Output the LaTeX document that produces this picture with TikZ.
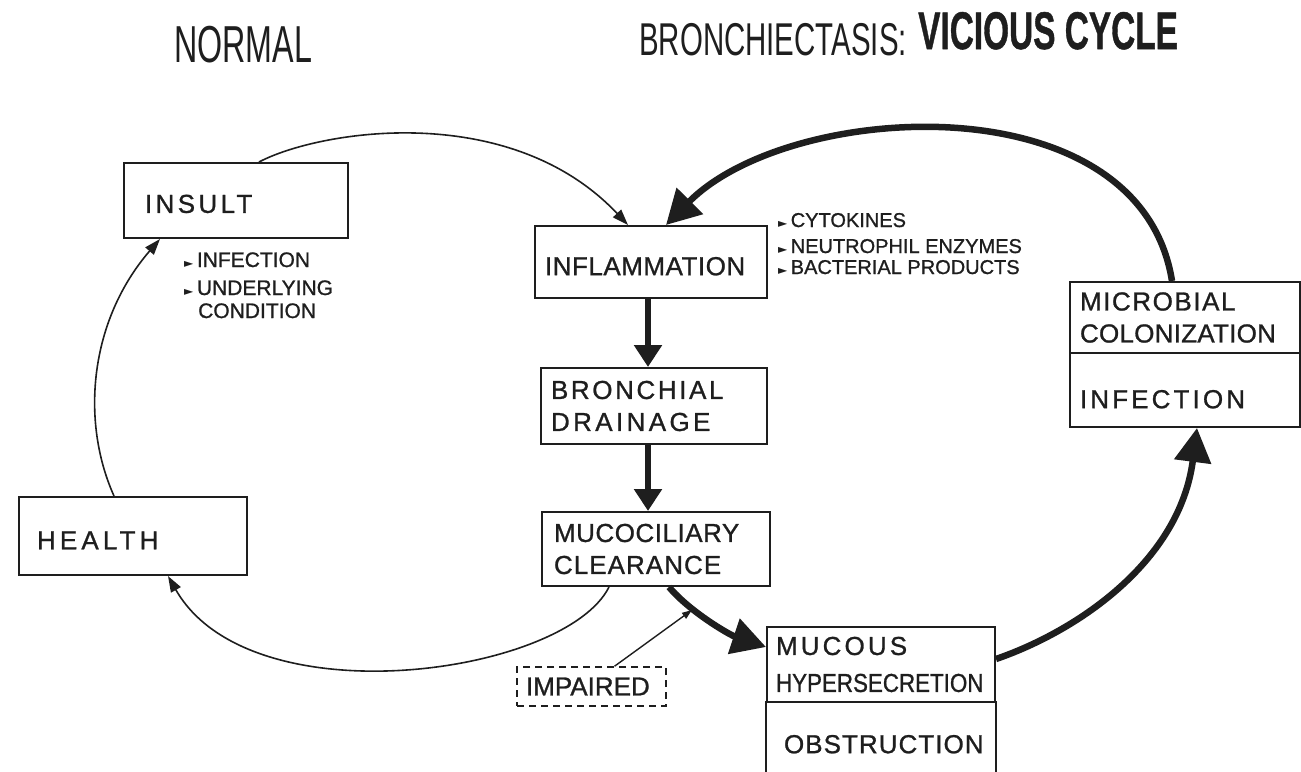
\documentclass[tikz,border=0pt]{standalone}
\usepackage{fontspec}
\setmainfont{Liberation Sans}
\newfontfamily\handfont{Liberation Sans}[FakeBold=1.0]
\newfontfamily\heavyfont{Liberation Sans Bold}[FakeBold=1.0]
\newfontfamily\symfont{DejaVu Sans}
\usetikzlibrary{arrows.meta,calc}
\definecolor{ink}{HTML}{1E1E1E}
\newcommand{\boxfont}{\handfont\fontsize{26}{32}\selectfont}
\newcommand{\lblfont}{\handfont\fontsize{20}{24}\selectfont}
\newcommand{\insfont}{\handfont\fontsize{21}{25}\selectfont}
\newcommand{\bultri}{{\symfont\fontsize{12}{12}\selectfont ►}\,}
\newcommand{\lsp}[2]{{\addfontfeature{LetterSpace=#1}#2}}
\begin{document}
\begin{tikzpicture}[x=1pt,y=-1pt,
  every node/.style={text=ink},
  box/.style={draw=ink, line width=2pt, inner ysep=0pt, align=left, font=\boxfont},
  thinarrow/.style={draw=ink, line width=1.6pt, -{Triangle[length=16pt,width=11pt]}},
  smallarrow/.style={draw=ink, line width=1.4pt, -{Triangle[length=10pt,width=7pt]}},
  thickarrow/.style={draw=ink, line width=6pt, -{Triangle[length=22pt,width=27pt]}},
  bigarrow/.style={draw=ink, line width=6.5pt, -{Triangle[length=34pt,width=36pt]}},
  lbl/.style={inner sep=0pt, anchor=base west},
  ttl/.style={inner sep=0pt, anchor=base west},
]
\useasboundingbox (0,0) rectangle (1301,771);

% titles
\node[ttl] (tnormal) at (174,62) {\scalebox{0.62}[1]{\fontsize{52}{52}\selectfont NORMAL}};
\node[ttl] (tbronch) at (639,55) {\scalebox{0.64}[1]{\fontsize{46}{46}\selectfont BRONCHIECTASIS:}};
\node[ttl] (tvicious) at (918,49) {\scalebox{0.63}[1]{\heavyfont\fontsize{53}{53}\selectfont VICIOUS CYCLE}};

% boxes
\node[box, minimum width=224pt, minimum height=75pt, inner xsep=21pt, text width=182pt, text height=25pt] (insult) at (236,200.5) {\lsp{13}{INSULT}};
\node[box, minimum width=232pt, minimum height=72pt, inner xsep=10pt, text width=212pt, text height=26.6pt] (inflammation) at (651,262) {\lsp{2}{INFLAMMATION}};
\node[box, minimum width=226pt, minimum height=76pt, inner xsep=10pt, text width=206pt] (bronchial) at (654,406) {\lsp{10}{BRONCHIAL}\\\lsp{13}{DRAINAGE}};
\node[box, minimum width=228pt, minimum height=74pt, inner xsep=12pt, text width=204pt] (mucociliary) at (656,549) {\lsp{2}{MUCOCILIARY}\\\lsp{4}{CLEARANCE}};
\node[box, minimum width=228pt, minimum height=78pt, inner xsep=18pt, text width=192pt, text height=26.6pt] (health) at (133,536) {\lsp{16}{HEALTH}};
\node[box, minimum width=230pt, minimum height=71pt, inner xsep=10pt, text width=210pt] (microbial) at (1185,317.5) {\lsp{6}{MICROBIAL}\\\lsp{1}{COLONIZATION}};
\node[box, minimum width=230pt, minimum height=74pt, inner xsep=10pt, text width=210pt, text height=36.6pt] (infection) at (1185,390) {\lsp{12}{INFECTION}};
\node[box, minimum width=228pt, minimum height=75pt, inner xsep=9pt, text width=210pt] (mucous) at (881,664.5) {\lsp{12}{MUCOUS}\\[5pt]\scalebox{0.86}[1]{HYPERSECRETION}};
\node[box, draw=none, minimum width=228pt, minimum height=69pt, inner xsep=17pt, text width=194pt, text height=33.6pt] (obstruction) at (881,736.5) {\lsp{4}{OBSTRUCTION}};
\draw[ink, line width=2pt] (obstruction.south west) -- (obstruction.north west)
  (obstruction.north east) -- (obstruction.south east);
\node[box, line width=1.5pt, dash pattern=on 7pt off 5pt, minimum width=149pt, minimum height=39pt, inner xsep=9pt, text width=131pt] (impaired) at (591.5,686.5) {IMPAIRED};

% bullet lists
\node[lbl, font=\insfont] (b1) at (184,267) {\bultri INFECTION};
\node[lbl, font=\insfont] (b2) at (184,295) {\bultri UNDERLYING};
\node[lbl, font=\insfont] (b3) at (198,318) {CONDITION};
\node[lbl, font=\lblfont] (c1) at (778,227) {\bultri CYTOKINES};
\node[lbl, font=\lblfont] (c2) at (778,253) {\bultri NEUTROPHIL ENZYMES};
\node[lbl, font=\lblfont] (c3) at (778,274) {\bultri BACTERIAL PRODUCTS};

% helper coordinates
\coordinate (vx) at (648,0);
\coordinate (imptip) at (692,610);

% connectors
\draw[thinarrow] ($(insult.north)+(23,0)$) .. controls (320,130) and (510,100) .. ($(inflammation.north)+(-23,0)$);
\draw[bigarrow] ($(microbial.north)+(-13,0)$) .. controls (1140,80) and (790,100) .. ($(inflammation.north)+(15,0)$);
\draw[thickarrow] (inflammation.south -| vx) -- (bronchial.north -| vx);
\draw[thickarrow] (bronchial.south -| vx) -- (mucociliary.north -| vx);
\draw[bigarrow] ($(mucociliary.south)+(13,0)$) .. controls (690,612) and (730,635) .. ($(mucous.west)+(0,-17.5)$);
\draw[smallarrow] ($(impaired.north)+(23,0)$) -- (imptip);
\draw[thinarrow] ($(mucociliary.south)+(-47,0)$) .. controls (565,675) and (250,720) .. ($(health.south)+(35,0)$);
\draw[thinarrow] ($(health.north)+(-19,0)$) .. controls (80,420) and (90,320) .. ($(insult.south)+(-76,0)$);
\draw[bigarrow] ($(mucous.east)+(0,-5.5)$) .. controls (1080,630) and (1180,560) .. ($(infection.south)+(12,0)$);
\end{tikzpicture}
\end{document}
